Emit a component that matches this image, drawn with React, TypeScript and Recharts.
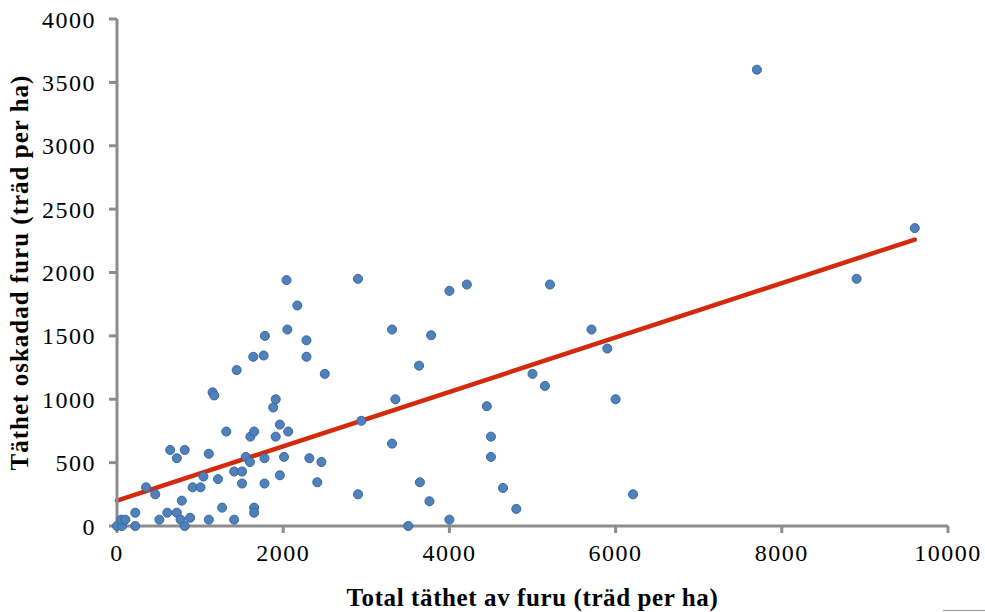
import React from "react"
import { ScatterChart, Scatter, XAxis, YAxis, ZAxis, ReferenceLine } from "recharts"

// Total täthet (x) och täthet oskadad furu (y)
const totalDensity = [
    0, 60, 50, 100, 220, 220, 350, 460, 510, 605,
    640, 720, 815, 720, 765, 815, 780, 880, 910, 1005,
    1040, 1105, 1105, 1150, 1170, 1215, 1265, 1315, 1410, 1410,
    1440, 1505, 1505, 1550, 1600, 1605, 1640, 1650, 1650, 1650,
    1765, 1775, 1775, 1780, 1880, 1910, 1910, 1960, 1960, 2010,
    2040, 2050, 2060, 2170, 2280, 2280, 2315, 2410, 2460, 2500,
    2900, 2900, 2940, 3310, 3310, 3350, 3505, 3635, 3645, 3760,
    3780, 4000, 4000, 4210, 4450, 4500, 4500, 4645, 4805, 5000,
    5150, 5210, 5710, 5900, 6000, 6210, 7700, 8900, 9600,
]
const undamagedDensity = [
    0, 0, 50, 50, 0, 105, 305, 250, 50, 105,
    600, 535, 600, 105, 50, 0, 200, 65, 305, 305,
    390, 570, 50, 1055, 1030, 370, 145, 745, 430, 50,
    1230, 430, 335, 545, 505, 705, 1335, 745, 145, 105,
    1345, 535, 335, 1500, 935, 1000, 705, 800, 400, 545,
    1940, 1550, 745, 1740, 1465, 1335, 535, 345, 505, 1200,
    1950, 250, 830, 1550, 650, 1000, 0, 1265, 345, 195,
    1505, 1855, 50, 1905, 945, 705, 545, 300, 135, 1200,
    1105, 1905, 1550, 1400, 1000, 250, 3600, 1950, 2350,
]

// Trendlinjens ändpunkter
const trendX = [0, 9600]
const trendY = [200, 2260]

const xTicks = [0, 2000, 4000, 6000, 8000, 10000]
const yTicks = [0, 500, 1000, 1500, 2000, 2500, 3000, 3500, 4000]

const points = totalDensity.map((x, i) => ({ x, y: undamagedDensity[i] }))

const axisColor = "#8c8c8c"
const tickStyle = { fontFamily: "'Liberation Serif', serif", fontSize: 24, fill: "#000", letterSpacing: 1.5 }
const titleStyle = { fontFamily: "'Liberation Serif', serif", fontSize: 25, fontWeight: "bold", fill: "#000", textAnchor: "middle" as const }

export default function App() {
    return (
        <div style={{ position: "absolute", left: 0, top: 0, width: 985, height: 612, background: "#fff", overflow: "hidden" }}>
            <ScatterChart width={985} height={612} margin={{ top: 19, right: 37, bottom: 0, left: 0 }}>
                <XAxis
                    type="number"
                    dataKey="x"
                    domain={[0, 10000]}
                    ticks={xTicks}
                    height={86}
                    stroke={axisColor}
                    strokeWidth={3}
                    tickSize={7}
                    tickMargin={11}
                    tick={tickStyle}
                    label={{ value: "Total täthet av furu (träd per ha)", position: "insideBottom", offset: 6, style: { ...titleStyle, letterSpacing: 0.6 } }}
                />
                <YAxis
                    type="number"
                    dataKey="y"
                    domain={[0, 4000]}
                    ticks={yTicks}
                    width={117}
                    stroke={axisColor}
                    strokeWidth={3}
                    tickSize={8}
                    tickMargin={13}
                    tick={tickStyle}
                    label={{ value: "Täthet oskadad furu (träd per ha)", angle: -90, position: "insideLeft", offset: 19, style: { ...titleStyle, letterSpacing: 1 } }}
                />
                <ZAxis range={[70, 70]} />
                <Scatter
                    data={points}
                    fill="#4F81BD"
                    stroke="#3A6699"
                    strokeWidth={1}
                    isAnimationActive={false}
                />
                <ReferenceLine
                    segment={[{ x: trendX[0], y: trendY[0] }, { x: trendX[1], y: trendY[1] }]}
                    stroke="#D42A0C"
                    strokeWidth={4.5}
                    strokeLinecap="round"
                />
            </ScatterChart>
            {/* avklippt legendruta nere till höger */}
            <div style={{ position: "absolute", left: 943, top: 610, width: 42, height: 1, background: "#9a9a9a" }} />
        </div>
    )
}
